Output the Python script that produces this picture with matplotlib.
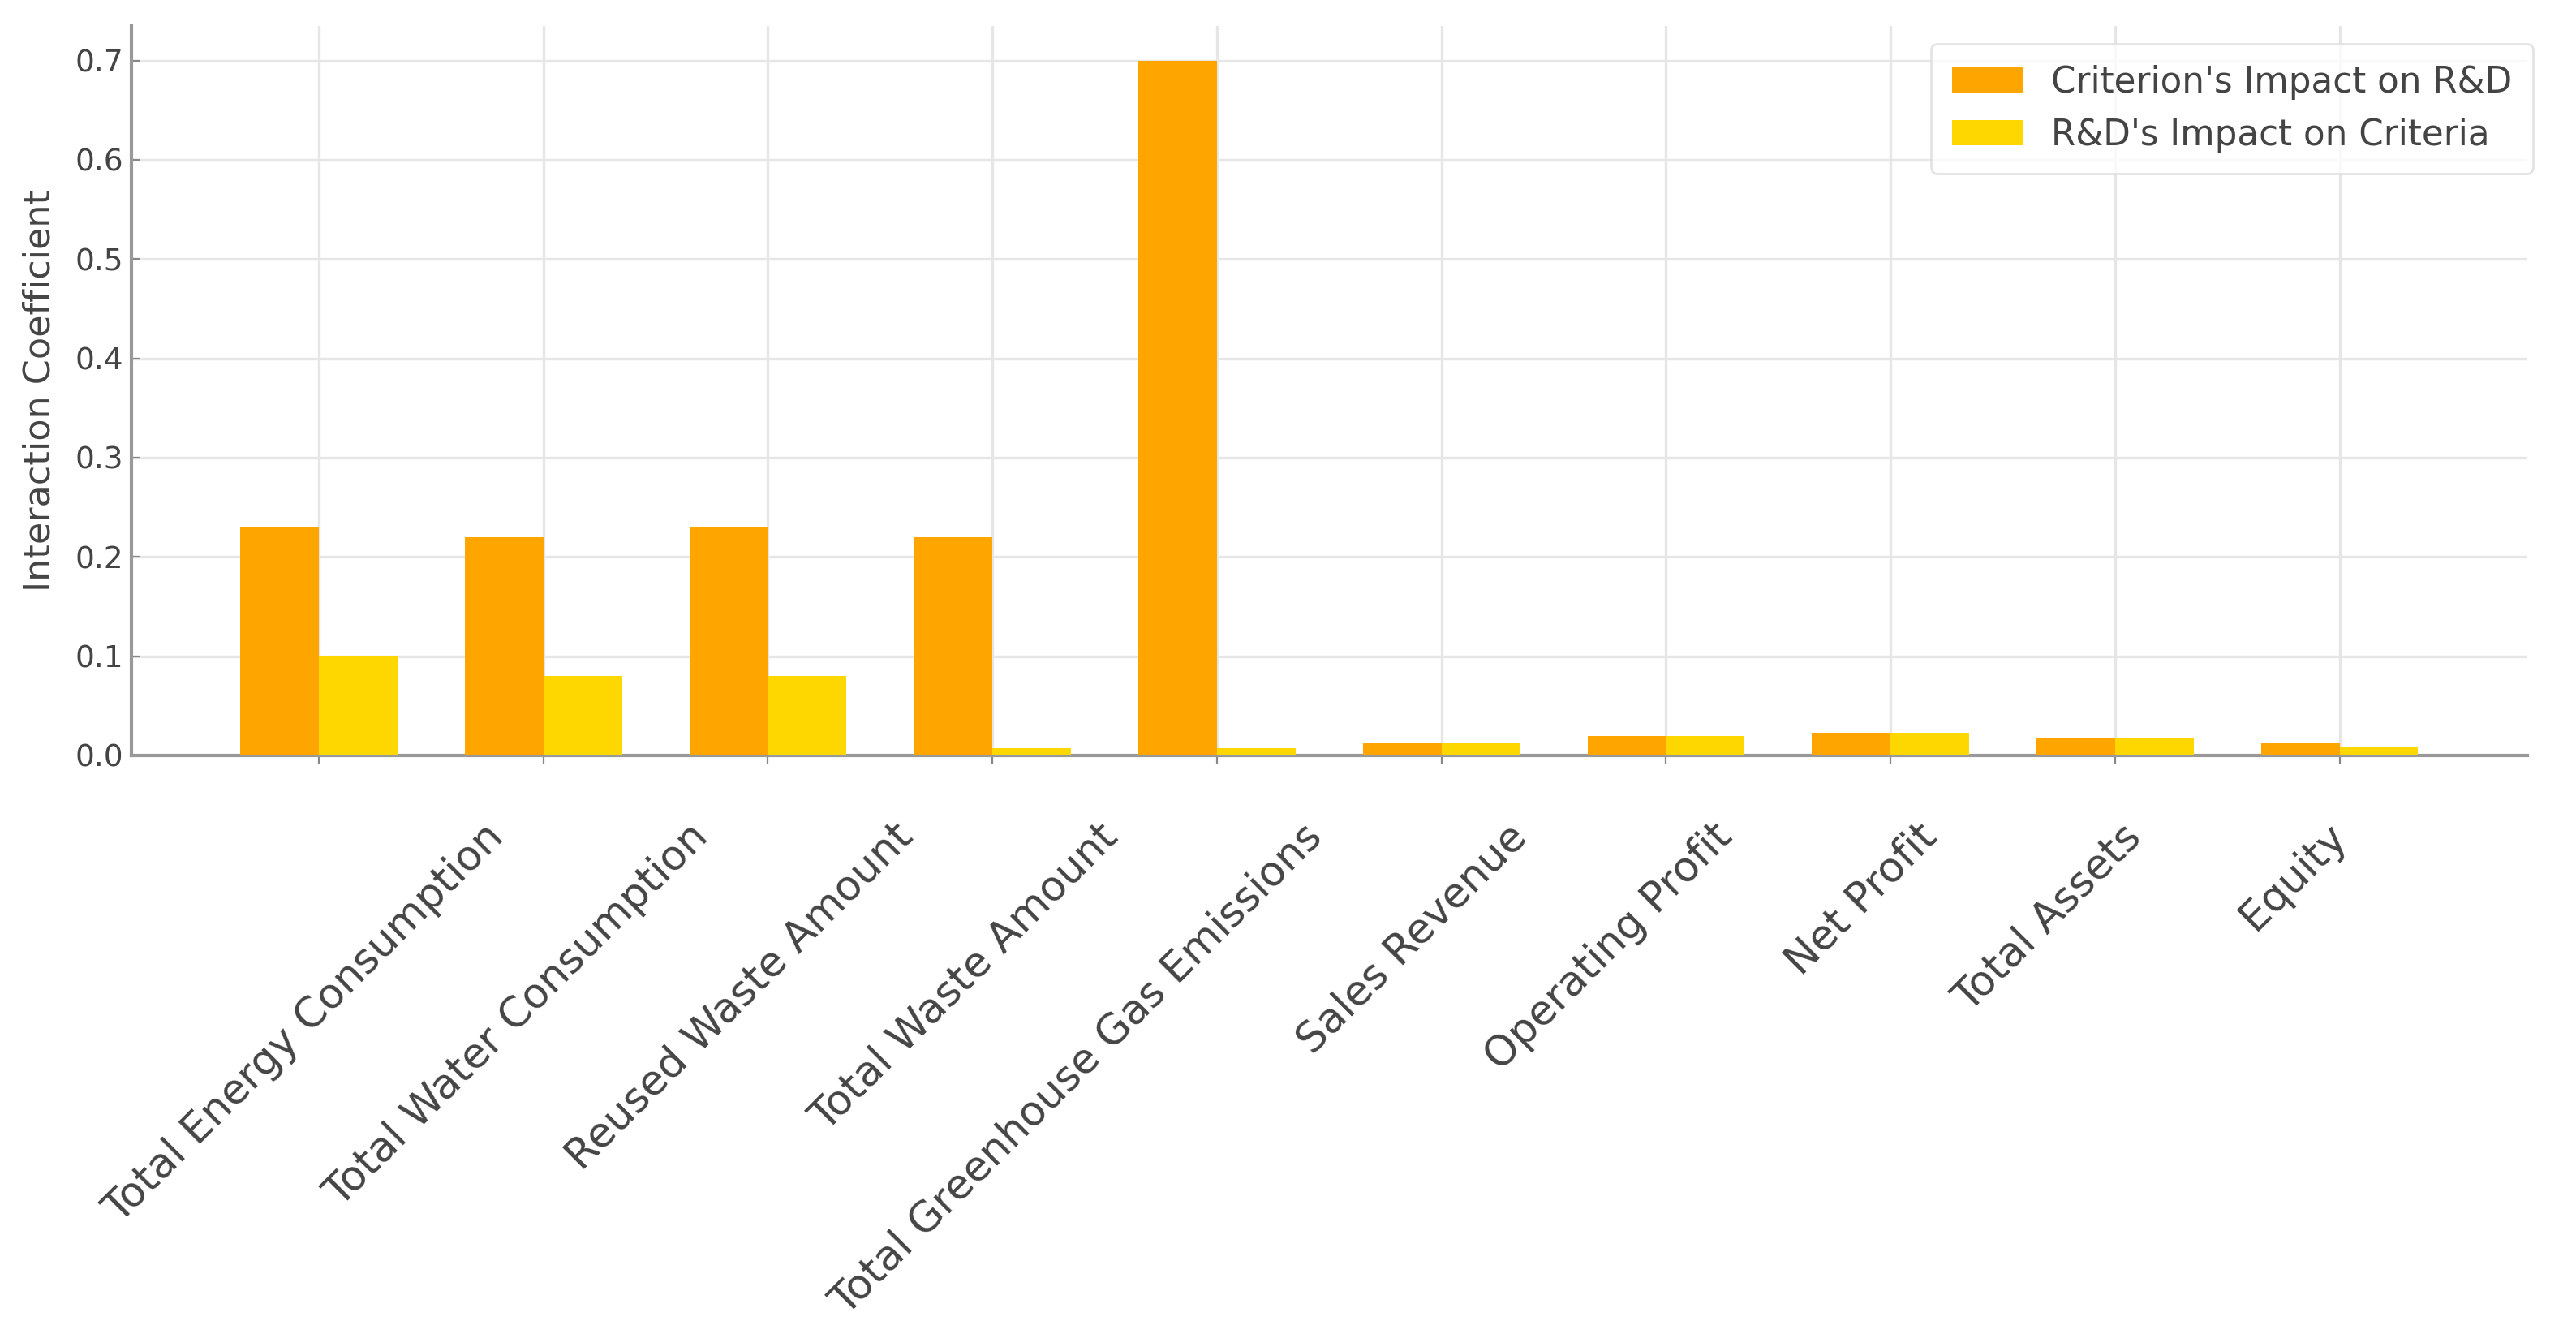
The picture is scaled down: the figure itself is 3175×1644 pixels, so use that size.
import numpy as np
import matplotlib
matplotlib.use("Agg")
import matplotlib.pyplot as plt

criteria = ['Total Energy Consumption', 'Total Water Consumption', 'Reused Waste Amount',
            'Total Waste Amount', 'Total Greenhouse Gas Emissions', 'Sales Revenue',
            'Operating Profit', 'Net Profit', 'Total Assets', 'Equity']
impact_on_rd = [0.23, 0.22, 0.23, 0.22, 0.70, 0.012, 0.02, 0.023, 0.018, 0.012]
rd_impact = [0.10, 0.08, 0.08, 0.007, 0.007, 0.012, 0.02, 0.023, 0.018, 0.008]

x = np.arange(len(criteria))
width = 0.35

fig = plt.figure(figsize=(15.875, 8.22), dpi=200)
ax = fig.add_axes([0.051, 0.4337, 0.930, 0.547])

ax.bar(x - width/2, impact_on_rd, width, color='orange', label="Criterion's Impact on R&D", zorder=3)
ax.bar(x + width/2, rd_impact, width, color='gold', label="R&D's Impact on Criteria", zorder=3)

# major ticks carry the grid, the labels sit on minor ticks (slightly drifted as in the source)
ax.set_xticks(x)
ax.set_xticklabels([])
label_pos = 0.73 + 0.912 * x
ax.set_xticks(label_pos, minor=True)
ax.set_xticklabels(criteria, minor=True, rotation=45, ha='right', rotation_mode='anchor',
                   fontsize=18.5, color='#444444')
ax.tick_params(axis='x', which='minor', length=0, pad=27)
ax.tick_params(axis='x', which='major', length=4, color='#888888')

ax.set_ylabel('Interaction Coefficient', fontsize=16, color='#444444', labelpad=8)
ax.tick_params(axis='y', labelsize=13.5, labelcolor='#444444', direction='in', length=4, color='#888888')

ax.grid(True, which='major', color='#e6e6e6', linewidth=1.2, zorder=0)
ax.set_axisbelow(True)
for side in ['top', 'right']:
    ax.spines[side].set_visible(False)
for side in ['left', 'bottom']:
    ax.spines[side].set_color('#999999')
    ax.spines[side].set_linewidth(1.5)

leg = ax.legend(loc='upper right', bbox_to_anchor=(1.01, 1.0), fontsize=15.7, frameon=True, borderpad=0.6)
leg.get_frame().set_edgecolor('#dddddd')
for t in leg.get_texts():
    t.set_color('#444444')

fig.savefig('out.png', dpi=200)
